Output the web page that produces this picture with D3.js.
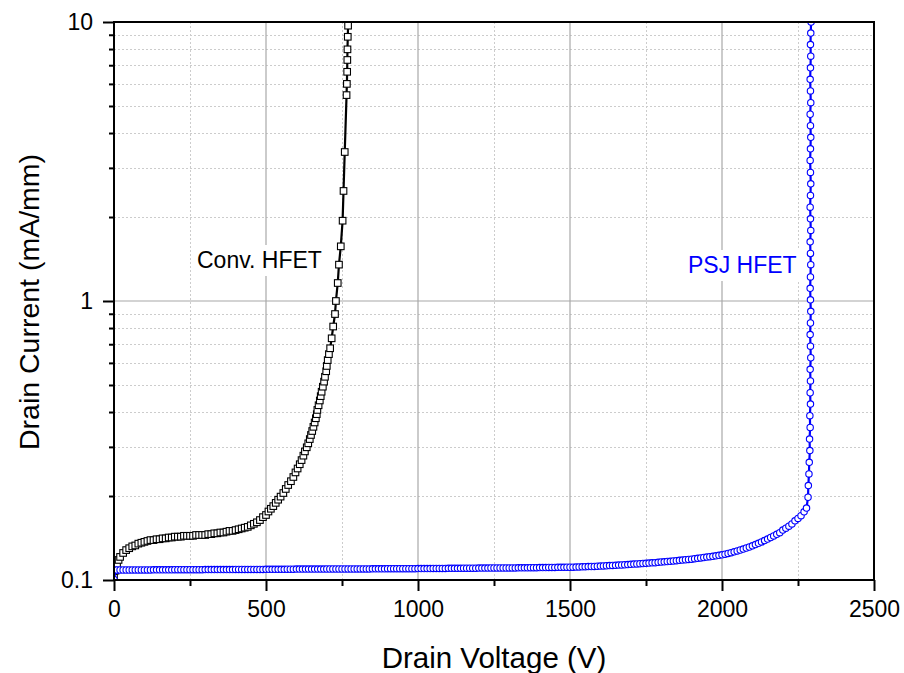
<!DOCTYPE html>
<html><head><meta charset="utf-8">
<script src="https://cdn.jsdelivr.net/npm/d3@7"></script>
<style>body{margin:0;background:#fff}svg{display:block}text{font-family:"Liberation Sans",Arial,sans-serif}</style>
</head><body><svg id="c" width="904" height="673"></svg>
<script>
// ---------- data ----------
const xTicks = [0, 500, 1000, 1500, 2000, 2500];
const xMinorTicks = [250, 750, 1250, 1750, 2250];
const yTicks = [0.1, 1, 10];
const yTickLabels = ["0.1", "1", "10"];
const yMinorTicks = [0.2, 0.3, 0.4, 0.5, 0.6, 0.7, 0.8, 0.9, 2, 3, 4, 5, 6, 7, 8, 9];
const xTitle = "Drain Voltage (V)";
const yTitle = "Drain Current (mA/mm)";
const seriesNames = ["Conv. HFET", "PSJ HFET"];

// Conv. HFET: [V, mA/mm]
const convData = [
[0,0.102],[5,0.108],[10,0.114],[15,0.118],[20,0.121],[30,0.125],[40,0.128],[50,0.130],[60,0.132],[70,0.133],
[80,0.135],[90,0.136],[100,0.137],[110,0.138],[120,0.139],[130,0.139],[140,0.140],[150,0.140],[160,0.141],[170,0.141],
[180,0.142],[190,0.142],[200,0.143],[210,0.143],[220,0.143],[230,0.144],[240,0.144],[250,0.144],[260,0.144],[270,0.145],
[280,0.145],[290,0.145],[300,0.145],[310,0.146],[320,0.146],[330,0.147],[340,0.147],[350,0.148],[360,0.148],[370,0.149],
[380,0.150],[390,0.150],[400,0.151],[410,0.152],[420,0.153],[430,0.154],[440,0.155],[450,0.157],[460,0.159],[470,0.161],
[480,0.164],[490,0.168],[500,0.171],[508,0.176],[516,0.180],[524,0.184],[532,0.189],[540,0.194],[548,0.199],[557,0.205],
[565,0.212],[573,0.219],[582,0.226],[590,0.234],[597,0.243],[604,0.251],[611,0.260],[617,0.269],[623,0.279],[628,0.289],
[634,0.299],[639,0.309],[644,0.320],[648,0.331],[652,0.342],[656,0.354],[660,0.367],[664,0.380],[667,0.393],[669,0.407],
[673,0.423],[677,0.440],[680,0.456],[683,0.473],[687,0.493],[691,0.514],[694,0.535],[698,0.560],[700,0.585],[703,0.614],
[707,0.645],[711,0.677],[716,0.735],[721,0.810],[727,0.898],[730,1.00],[736,1.16],[740,1.35],[746,1.57],[752,1.94],
[755,2.48],[759,3.42],[765,5.47],[766,6.00],[767,6.63],[767.5,7.31],[768,7.98],[769,8.85],[770,9.70]
];

// PSJ HFET: [V, mA/mm]
const psjData = [
[0,0.1005],[5,0.1083],[10,0.1086],[20,0.1086],[30,0.1086],[40,0.1086],[50,0.1086],[60,0.1087],[70,0.1087],[80,0.1087],
[90,0.1087],[100,0.1087],[110,0.1087],[120,0.1087],[130,0.1088],[140,0.1088],[150,0.1088],[160,0.1088],[170,0.1088],[180,0.1088],
[190,0.1088],[200,0.1089],[210,0.1089],[220,0.1089],[230,0.1089],[240,0.1089],[250,0.1089],[260,0.1089],[270,0.1089],[280,0.1089],
[290,0.1089],[300,0.1090],[310,0.1090],[320,0.1090],[330,0.1090],[340,0.1090],[350,0.1090],[360,0.1090],[370,0.1090],[380,0.1090],
[390,0.1090],[400,0.1091],[410,0.1091],[420,0.1091],[430,0.1091],[440,0.1091],[450,0.1091],[460,0.1091],[470,0.1091],[480,0.1091],
[490,0.1091],[500,0.1092],[510,0.1092],[520,0.1092],[530,0.1092],[540,0.1092],[550,0.1092],[560,0.1092],[570,0.1093],[580,0.1093],
[590,0.1093],[600,0.1094],[610,0.1094],[620,0.1094],[630,0.1094],[640,0.1094],[650,0.1094],[660,0.1094],[670,0.1094],[680,0.1094],
[690,0.1094],[700,0.1095],[710,0.1095],[720,0.1095],[730,0.1095],[740,0.1095],[750,0.1095],[760,0.1095],[770,0.1095],[780,0.1095],
[790,0.1095],[800,0.1096],[810,0.1096],[820,0.1096],[830,0.1096],[840,0.1096],[850,0.1097],[860,0.1097],[870,0.1097],[880,0.1097],
[890,0.1097],[900,0.1098],[910,0.1098],[920,0.1098],[930,0.1098],[940,0.1098],[950,0.1098],[960,0.1098],[970,0.1098],[980,0.1098],
[990,0.1098],[1000,0.1099],[1010,0.1099],[1020,0.1099],[1030,0.1099],[1040,0.1099],[1050,0.1100],[1060,0.1100],[1070,0.1100],[1080,0.1100],
[1090,0.1100],[1100,0.1101],[1110,0.1101],[1120,0.1101],[1130,0.1101],[1140,0.1101],[1150,0.1102],[1160,0.1102],[1170,0.1102],[1180,0.1102],
[1190,0.1102],[1200,0.1103],[1210,0.1103],[1220,0.1103],[1230,0.1103],[1240,0.1104],[1250,0.1104],[1260,0.1104],[1270,0.1104],[1280,0.1104],
[1290,0.1104],[1300,0.1105],[1310,0.1105],[1320,0.1105],[1330,0.1106],[1340,0.1106],[1350,0.1106],[1360,0.1106],[1370,0.1107],[1380,0.1107],
[1390,0.1107],[1400,0.1108],[1410,0.1108],[1420,0.1108],[1430,0.1109],[1440,0.1109],[1450,0.1109],[1460,0.1110],[1470,0.1110],[1480,0.1110],
[1490,0.1111],[1500,0.1111],[1510,0.1112],[1520,0.1113],[1530,0.1114],[1540,0.1115],[1550,0.1116],[1560,0.1117],[1570,0.1118],[1580,0.1119],
[1590,0.1120],[1600,0.1122],[1610,0.1123],[1620,0.1125],[1630,0.1126],[1640,0.1128],[1650,0.1129],[1660,0.1131],[1670,0.1132],[1680,0.1134],
[1690,0.1136],[1700,0.1138],[1710,0.1140],[1720,0.1142],[1730,0.1144],[1740,0.1146],[1750,0.1148],[1760,0.1150],[1770,0.1152],[1780,0.1154],
[1790,0.1157],[1800,0.1160],[1810,0.1162],[1820,0.1165],[1830,0.1167],[1840,0.1170],[1850,0.1173],[1860,0.1176],[1870,0.1179],[1880,0.1182],
[1890,0.1185],[1900,0.1188],[1910,0.1192],[1920,0.1196],[1930,0.1200],[1940,0.1204],[1950,0.1208],[1960,0.1212],[1970,0.1216],[1980,0.1221],
[1990,0.1226],[2000,0.1231],[2010,0.1238],[2020,0.1245],[2030,0.1253],[2040,0.1262],[2050,0.1271],[2060,0.1281],[2070,0.1291],[2080,0.1302],
[2090,0.1313],[2100,0.1326],[2110,0.1340],[2120,0.1354],[2130,0.1369],[2140,0.1385],[2150,0.1402],[2160,0.1420],[2170,0.1439],[2180,0.1458],
[2190,0.1478],[2200,0.1510],[2210,0.1534],[2220,0.1559],[2230,0.1588],[2240,0.1630],[2250,0.1662],[2260,0.1700],[2270,0.1755],[2278,0.1810],
[2283,0.198],[2284,0.218],[2286,0.240],[2287,0.264],[2289,0.291],[2288,0.320],[2290,0.352],[2289,0.388],[2291,0.427],[2290,0.469],
[2291,0.517],[2290,0.569],[2292,0.626],[2291,0.689],[2290,0.758],[2291,0.834],[2292,0.918],[2291,1.01],[2290,1.11],[2291,1.22],
[2292,1.35],[2291,1.48],[2290,1.63],[2292,1.79],[2291,1.97],[2290,2.17],[2291,2.39],[2292,2.63],[2291,2.89],[2290,3.19],
[2291,3.51],[2292,3.86],[2291,4.25],[2290,4.67],[2292,5.14],[2291,5.66],[2290,6.23],[2291,6.85],[2292,7.54],[2291,8.30],
[2292,9.13],[2293,10.0]
];

// ---------- chart ----------
const W = 904, H = 673;
const L = 114, R = 874, T = 22, B = 580;
const svg = d3.select("#c");
const x = d3.scaleLinear().domain([0, 2500]).range([L, R]);
const y = d3.scaleLog().domain([0.1, 10]).range([B, T]);

svg.append("rect").attr("width", W).attr("height", H).attr("fill", "#fff");

// grid
const grid = svg.append("g");
grid.selectAll(".gxm").data(xMinorTicks).join("line")
  .attr("x1", d => Math.round(x(d)) + 0.5).attr("x2", d => Math.round(x(d)) + 0.5).attr("y1", T).attr("y2", B)
  .attr("stroke", "#cccccc").attr("stroke-width", 1).attr("stroke-dasharray", "2,2");
grid.selectAll(".gym").data(yMinorTicks).join("line")
  .attr("y1", d => Math.round(y(d)) + 0.5).attr("y2", d => Math.round(y(d)) + 0.5).attr("x1", L).attr("x2", R)
  .attr("stroke", "#cccccc").attr("stroke-width", 1).attr("stroke-dasharray", "2,2");
grid.selectAll(".gx").data(xTicks.slice(1, -1)).join("line")
  .attr("x1", d => x(d)).attr("x2", d => x(d)).attr("y1", T).attr("y2", B)
  .attr("stroke", "#a8a8a8").attr("stroke-width", 1.2);
grid.selectAll(".gy").data(yTicks.slice(1, -1)).join("line")
  .attr("y1", d => y(d)).attr("y2", d => y(d)).attr("x1", L).attr("x2", R)
  .attr("stroke", "#a8a8a8").attr("stroke-width", 1.2);

// annotation with white background (covers gridlines)
function label(text, x0, yb, color) {
  const g = svg.append("g");
  const t = g.append("text").attr("x", x0).attr("y", yb).attr("font-size", 23)
    .attr("fill", color).text(text);
  const bb = t.node().getBBox();
  g.insert("rect", "text").attr("x", bb.x - 5).attr("y", bb.y - 2)
    .attr("width", bb.width + 10).attr("height", bb.height + 5).attr("fill", "#fff");
  return g;
}

// data
svg.append("clipPath").attr("id", "clip").append("rect")
  .attr("x", L).attr("y", T).attr("width", R - L).attr("height", B - T);
const plot = svg.append("g").attr("clip-path", "url(#clip)");
const line = d3.line().x(d => x(d[0])).y(d => y(d[1]));

plot.append("path").datum(convData).attr("d", line).attr("fill", "none")
  .attr("stroke", "#000").attr("stroke-width", 2.2);
plot.selectAll(".sq").data(convData).join("rect")
  .attr("x", d => x(d[0]) - 3.3).attr("y", d => y(d[1]) - 3.3)
  .attr("width", 6.6).attr("height", 6.6)
  .attr("fill", "#fff").attr("stroke", "#000").attr("stroke-width", 1.1);

plot.append("path").datum(psjData).attr("d", line).attr("fill", "none")
  .attr("stroke", "#0000ff").attr("stroke-width", 2.2);
plot.selectAll(".ci").data(psjData).join("circle")
  .attr("cx", d => x(d[0])).attr("cy", d => y(d[1])).attr("r", 3.2)
  .attr("fill", "#fff").attr("stroke", "#0000ff").attr("stroke-width", 1.1);

label(seriesNames[0], 197, 268, "#000");
label(seriesNames[1], 688, 273, "#0000ff");

// axes
const fmtY = d => yTickLabels[yTicks.indexOf(d)];
const ax = svg.append("g");
const xAxis = ax.append("g").attr("transform", `translate(0,${B})`)
  .call(d3.axisBottom(x).tickValues(xTicks).tickFormat(d3.format("d")).tickSize(11).tickPadding(10));
const xAxisMinor = ax.append("g").attr("transform", `translate(0,${B})`)
  .call(d3.axisBottom(x).tickValues(xMinorTicks).tickFormat("").tickSize(6));
const yAxis = ax.append("g").attr("transform", `translate(${L},0)`)
  .call(d3.axisLeft(y).tickValues(yTicks).tickFormat(fmtY).tickSize(11).tickPadding(10));
const yAxisMinor = ax.append("g").attr("transform", `translate(${L},0)`)
  .call(d3.axisLeft(y).tickValues(yMinorTicks).tickFormat("").tickSize(5));
ax.selectAll(".domain").attr("stroke", "#000").attr("stroke-width", 2);
ax.selectAll(".tick line").attr("stroke", "#000").attr("stroke-width", 2);
ax.selectAll(".tick text").attr("font-size", 23).attr("fill", "#000")
  .attr("font-family", "'Liberation Sans', Arial, sans-serif");
[xAxisMinor, yAxisMinor].forEach(g => g.select(".domain").remove());
xAxis.select(".domain").attr("d", `M${L - 1},0H${R + 1}`);
yAxis.select(".domain").attr("d", `M0,${B + 1}V${T - 1}`);

// frame top/right
ax.append("line").attr("x1", L).attr("x2", R + 1).attr("y1", T).attr("y2", T)
  .attr("stroke", "#000").attr("stroke-width", 2);
ax.append("line").attr("x1", R).attr("x2", R).attr("y1", T).attr("y2", B)
  .attr("stroke", "#000").attr("stroke-width", 2);

// titles
svg.append("text").attr("x", (L + R) / 2).attr("y", 668).attr("text-anchor", "middle")
  .attr("font-size", 29.5).attr("fill", "#000").text(xTitle);
svg.append("text").attr("transform", `translate(39,${(T + B) / 2 + 1}) rotate(-90)`)
  .attr("text-anchor", "middle").attr("font-size", 28.5).attr("fill", "#000").text(yTitle);
</script>
</body></html>
